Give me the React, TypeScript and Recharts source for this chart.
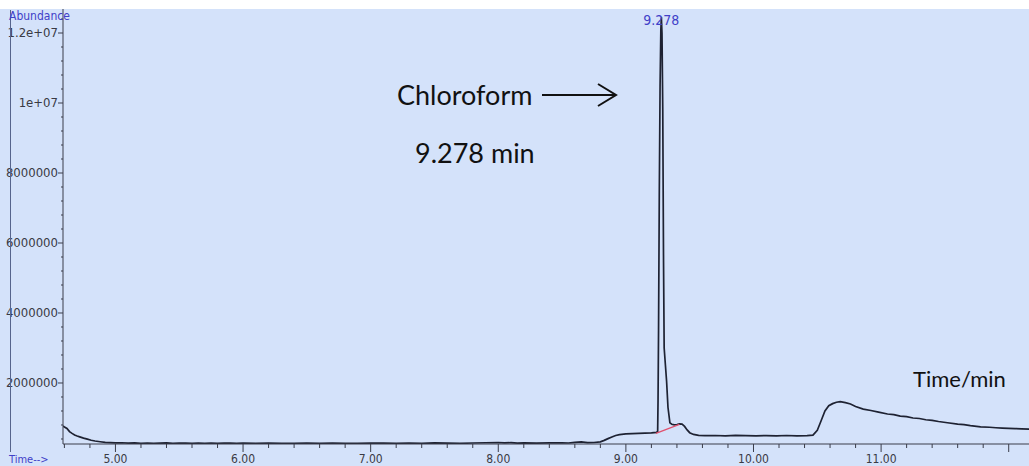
import { LineChart, Line, XAxis, YAxis, ReferenceDot } from 'recharts';

// TIC chromatogram, values
const timeMin = [
  4.589, 4.6, 4.62, 4.64, 4.66, 4.68, 4.7, 4.72, 4.75, 4.78, 4.81, 4.84, 4.88, 4.92, 4.96,
  5.0, 5.05, 5.1, 5.15, 5.2, 5.25, 5.3, 5.35, 5.4, 5.45, 5.5, 5.55, 5.6, 5.65, 5.7, 5.75, 5.8, 5.85, 5.9, 5.95,
  6.0, 6.1, 6.2, 6.3, 6.4, 6.5, 6.6, 6.7, 6.8, 6.9, 7.0, 7.1, 7.2, 7.3, 7.4, 7.5, 7.6, 7.7, 7.8, 7.9,
  8.0, 8.05, 8.1, 8.15, 8.2, 8.3, 8.4, 8.5, 8.55, 8.6, 8.65, 8.7, 8.75, 8.8, 8.83, 8.86, 8.89, 8.92, 8.95,
  9.0, 9.05, 9.1, 9.15, 9.2, 9.24, 9.249, 9.252, 9.256, 9.262, 9.268, 9.274, 9.278, 9.283, 9.289, 9.295,
  9.3, 9.31, 9.319, 9.33, 9.345, 9.36, 9.38, 9.4, 9.42, 9.44, 9.46, 9.48, 9.5, 9.53, 9.57, 9.62, 9.7,
  9.78, 9.86, 9.94, 10.02, 10.1, 10.18, 10.26, 10.34, 10.42, 10.466, 10.5, 10.53, 10.56, 10.59, 10.62,
  10.65, 10.68, 10.72, 10.76, 10.8, 10.86, 10.92, 10.98, 11.05, 11.1, 11.15, 11.2, 11.25, 11.3, 11.35,
  11.4, 11.45, 11.52, 11.6, 11.65, 11.7, 11.78, 11.85, 11.9, 11.95, 12.0, 12.05, 12.1, 12.16,
];
const abundance = [
  770000, 745000, 700000, 610000, 560000, 515000, 485000, 460000, 425000, 395000, 365000, 342000, 322000, 305000, 296000,
  290000, 292000, 281000, 287000, 279000, 284000, 276000, 283000, 290000, 278000, 285000, 280000, 274000, 286000, 279000, 283000, 277000, 285000, 280000, 276000,
  284000, 278000, 286000, 279000, 275000, 283000, 277000, 285000, 279000, 274000, 286000, 280000, 276000, 284000, 279000, 287000, 281000, 277000, 285000, 292000,
  300000, 288000, 296000, 284000, 290000, 283000, 289000, 292000, 286000, 305000, 318000, 298000, 300000, 318000, 360000, 410000, 455000, 500000, 525000,
  545000, 555000, 562000, 570000, 575000, 590000, 620000, 1500000, 3500000, 7500000, 10500000, 12100000, 12450000, 12000000, 9800000, 5500000,
  3000000, 2500000, 2050000, 1300000, 860000, 820000, 805000, 815000, 830000, 825000, 760000, 660000, 580000, 530000, 505000, 495000, 500000,
  490000, 502000, 495000, 488000, 498000, 492000, 500000, 490000, 497000, 510000, 650000, 920000, 1200000, 1350000, 1410000,
  1450000, 1465000, 1440000, 1400000, 1330000, 1255000, 1215000, 1170000, 1115000, 1095000, 1055000, 1040000, 1000000, 985000, 950000,
  930000, 900000, 865000, 825000, 810000, 780000, 748000, 735000, 722000, 712000, 705000, 698000, 690000, 682000,
];

// integration baseline (red)
const baselineTime = [9.235, 9.42];
const baselineAbundance = [560000, 815000];

const xTicks = [
  4.6, 4.8, 5.0, 5.2, 5.4, 5.6, 5.8, 6.0, 6.2, 6.4, 6.6, 6.8, 7.0, 7.2, 7.4, 7.6, 7.8, 8.0, 8.2, 8.4, 8.6, 8.8,
  9.0, 9.2, 9.4, 9.6, 9.8, 10.0, 10.2, 10.4, 10.6, 10.8, 11.0, 11.2, 11.4, 11.6, 11.8, 12.0,
];
const xMajor = [5, 6, 7, 8, 9, 10, 11, 12];
const xLabelValues = [5, 6, 7, 8, 9, 10, 11];
const xLabelText = ['5.00', '6.00', '7.00', '8.00', '9.00', '10.00', '11.00'];

const yTicks = [
  400000, 800000, 1200000, 1600000, 2000000, 2400000, 2800000, 3200000, 3600000, 4000000, 4400000, 4800000,
  5200000, 5600000, 6000000, 6400000, 6800000, 7200000, 7600000, 8000000, 8400000, 8800000, 9200000, 9600000,
  10000000, 10400000, 10800000, 11200000, 11600000, 12000000, 12400000,
];
const yLabelValues = [2000000, 4000000, 6000000, 8000000, 10000000, 12000000];
const yLabelText = ['2000000', '4000000', '6000000', '8000000', '1e+07', '1.2e+07'];

const traceData = timeMin.map((t, i) => ({ t, v: abundance[i] }));
const baselineData = baselineTime.map((t, i) => ({ t, v: baselineAbundance[i] }));

const BG = '#d4e2fa';
const AXIS = '#3a3d4a';
const BLUE = '#4040c8';
const tickFont = "'Liberation Sans Narrow', 'DejaVu Sans Condensed', sans-serif";
const noteFont = "Lato, 'Open Sans', sans-serif";

const near = (a: number, b: number) => Math.abs(a - b) < 1e-6;

function XTick(props: any) {
  const { x, y, payload } = props;
  const val = payload.value as number;
  const major = xMajor.some((m) => near(m, val));
  const li = xLabelValues.findIndex((m) => near(m, val));
  return (
    <g>
      <line x1={x} x2={x} y1={y} y2={y + (major ? 8 : 4)} stroke={AXIS} strokeWidth={1} />
      {li >= 0 && (
        <text x={x} y={y + 19} textAnchor="middle" fontSize={12} fontFamily={tickFont} fill="#3a3a44">
          {xLabelText[li]}
        </text>
      )}
    </g>
  );
}

function YTick(props: any) {
  const { x, y, payload } = props;
  const val = payload.value as number;
  const li = yLabelValues.findIndex((m) => near(m, val));
  return (
    <g>
      <line x1={x - (li >= 0 ? 5 : 2)} x2={x} y1={y} y2={y} stroke={AXIS} strokeWidth={1} />
      {li >= 0 && (
        <text x={x - 5} y={y + 4} textAnchor="end" fontSize={13} fontFamily={tickFont} fill="#3a3a44">
          {yLabelText[li]}
        </text>
      )}
    </g>
  );
}

export default function App() {
  return (
    <div
      style={{
        position: 'absolute',
        left: 0,
        top: 0,
        width: 1029,
        height: 466,
        overflow: 'hidden',
        background: `linear-gradient(#ffffff 0px, #ffffff 9px, ${BG} 9px)`,
      }}
    >
      <LineChart width={1029} height={466} margin={{ top: 9, right: 0, bottom: 0, left: 0 }} data={traceData}>
        <XAxis
          dataKey="t"
          type="number"
          domain={[4.589, 12.159]}
          allowDataOverflow
          ticks={xTicks}
          interval={0}
          height={22}
          tickSize={0}
          tickMargin={0}
          tickLine={false}
          tick={<XTick />}
          axisLine={{ stroke: AXIS, strokeWidth: 1 }}
        />
        <YAxis
          type="number"
          domain={[257000, 12686000]}
          allowDataOverflow
          ticks={yTicks}
          interval={0}
          width={63}
          tickSize={0}
          tickMargin={0}
          tickLine={false}
          tick={<YTick />}
          axisLine={{ stroke: AXIS, strokeWidth: 1 }}
        />
        <Line
          dataKey="v"
          type="linear"
          stroke="#1e2232"
          strokeWidth={1.7}
          dot={false}
          activeDot={false}
          isAnimationActive={false}
        />
        <Line
          data={baselineData}
          dataKey="v"
          type="linear"
          stroke="#e0506e"
          strokeWidth={1.3}
          dot={false}
          activeDot={false}
          isAnimationActive={false}
        />
        <ReferenceDot
          x={9.278}
          y={12450000}
          r={0}
          shape={(p: any) => (
            <text x={p.cx} y={25} textAnchor="middle" fontSize={14} fontFamily={tickFont} fill={BLUE}>
              9.278
            </text>
          )}
        />
      </LineChart>
      <svg
        width={1029}
        height={466}
        style={{ position: 'absolute', left: 0, top: 0, pointerEvents: 'none' }}
      >
        <line x1={10.5} x2={10.5} y1={10} y2={452} stroke="#56648c" strokeWidth={1} />
        <text x={9} y={20} fontSize={12} fontFamily={tickFont} fill={BLUE}>
          Abundance
        </text>
        <text x={9} y={463} fontSize={11} fontFamily={tickFont} fill={BLUE}>
          Time--&gt;
        </text>
        <text x={397} y={105} fontSize={27} fontFamily={noteFont} fill="#111">
          Chloroform
        </text>
        <line x1={542} x2={615} y1={95} y2={95} stroke="#111" strokeWidth={2} />
        <polyline points="598,84 616,95 598,106" fill="none" stroke="#111" strokeWidth={2} />
        <text x={415} y={163} fontSize={27} fontFamily={noteFont} fill="#111">
          9.278 min
        </text>
        <text x={913} y={387} fontSize={22} fontFamily={noteFont} fill="#111">
          Time/min
        </text>
      </svg>
    </div>
  );
}
